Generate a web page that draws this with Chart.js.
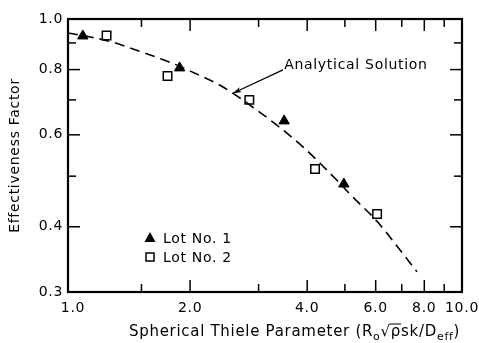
<!DOCTYPE html>
<html><head><meta charset="utf-8">
<script src="https://cdn.jsdelivr.net/npm/chart.js@4.4.1/dist/chart.umd.min.js"></script>
<style>html,body{margin:0;padding:0;background:#fff;}#wrap{width:479px;height:343px;}</style>
</head><body><div id="wrap"><canvas id="c" width="479" height="343"></canvas></div>
<script>
// ---- data ----
const lot1X = [1.06, 1.88, 3.49, 4.97];
const lot1Y = [0.928, 0.806, 0.638, 0.483];
const lot2X = [1.22, 1.75, 2.84, 4.19, 6.05];
const lot2Y = [0.930, 0.778, 0.700, 0.516, 0.423];
const curveX = [0.971, 1.106, 1.245, 1.377, 1.513, 1.644, 1.807, 1.964, 2.43, 2.97, 3.40, 3.90, 4.31, 4.77, 5.15, 6.06, 6.81, 7.66];
const curveY = [0.940, 0.924, 0.906, 0.884, 0.863, 0.844, 0.822, 0.800, 0.741, 0.669, 0.620, 0.569, 0.530, 0.491, 0.462, 0.409, 0.367, 0.328];
const xTickValues = [1, 1.5, 2, 3, 4, 5, 6, 7, 8, 9, 10];
const xTickLabels = ['1.0', '', '2.0', '', '4.0', '', '6.0', '', '8.0', '', '10.0'];
const yTickValues = [0.3, 0.4, 0.5, 0.6, 0.7, 0.8, 0.9, 1.0];
const yTickLabels = ['0.3', '0.4', '', '0.6', '', '0.8', '', '1.0'];
const seriesNames = ['Analytical Solution', 'Lot No. 1', 'Lot No. 2'];
const xTitle = 'Spherical Thiele Parameter';
const yTitle = 'Effectiveness Factor';

const FAMILY = '"DejaVu Sans", sans-serif';
const LS = '0.7px';

function pts(xs, ys) { return xs.map((v, i) => ({x: v, y: ys[i]})); }

const decor = {
  id: 'decor',
  beforeDraw(chart) { chart.ctx.letterSpacing = LS; },
  afterDatasetsDraw(chart) {
    const {ctx, chartArea: a, scales: {x, y}} = chart;
    ctx.save();
    ctx.strokeStyle = '#000';
    ctx.fillStyle = '#000';
    ctx.lineWidth = 1.5;
    const line = (x1, y1, x2, y2) => { ctx.beginPath(); ctx.moveTo(x1, y1); ctx.lineTo(x2, y2); ctx.stroke(); };
    // inward ticks
    xTickValues.forEach((v, i) => {
      if (v <= 1 || v >= 10) return;
      const px = x.getPixelForValue(v);
      const L = xTickLabels[i] ? 12 : 8;
      line(px, a.bottom, px, a.bottom - L);
      line(px, a.top, px, a.top + L);
    });
    yTickValues.forEach((v, i) => {
      if (v <= 0.3 || v >= 1.0) return;
      const py = y.getPixelForValue(v);
      const L = yTickLabels[i] ? 12 : 8;
      line(a.left, py, a.left + L, py);
      line(a.right, py, a.right - L, py);
    });
    // frame
    ctx.lineWidth = 2.2;
    ctx.strokeRect(a.left, a.top, a.right - a.left, a.bottom - a.top);

    // annotation
    ctx.font = '14px ' + FAMILY;
    ctx.letterSpacing = LS;
    ctx.textBaseline = 'middle';
    ctx.textAlign = 'left';
    ctx.fillText(seriesNames[0], x.getPixelForValue(3.49), y.getPixelForValue(0.816));
    const tx = x.getPixelForValue(3.465), ty = y.getPixelForValue(0.799);
    const hx = x.getPixelForValue(2.577), hy = y.getPixelForValue(0.721);
    ctx.lineWidth = 1.2;
    line(tx, ty, hx, hy);
    const ang = Math.atan2(hy - ty, hx - tx);
    const al = 9, aw = 0.3;
    ctx.beginPath();
    ctx.moveTo(hx, hy);
    ctx.lineTo(hx - al * Math.cos(ang - aw), hy - al * Math.sin(ang - aw));
    ctx.lineTo(hx - al * 0.7 * Math.cos(ang), hy - al * 0.7 * Math.sin(ang));
    ctx.lineTo(hx - al * Math.cos(ang + aw), hy - al * Math.sin(ang + aw));
    ctx.closePath();
    ctx.fill();

    // legend
    const lx = 150;
    const ly1 = 238, ly2 = 257;
    ctx.beginPath();
    ctx.moveTo(lx, ly1 - 6); ctx.lineTo(lx + 5.5, ly1 + 4); ctx.lineTo(lx - 5.5, ly1 + 4); ctx.closePath();
    ctx.fill();
    ctx.lineWidth = 1.5;
    ctx.fillStyle = '#fff';
    ctx.fillRect(lx - 4, ly2 - 4, 8, 8);
    ctx.strokeRect(lx - 4, ly2 - 4, 8, 8);
    ctx.fillStyle = '#000';
    ctx.fillText(seriesNames[1], 163, ly1 + 1);
    ctx.fillText(seriesNames[2], 163, ly2 + 1);

    // x-axis title with subscripts
    ctx.textBaseline = 'alphabetic';
    let cx = 129; const base = 336;
    const put = (t, size, dy) => { ctx.font = size + 'px ' + FAMILY; ctx.fillText(t, cx, base + dy); cx += ctx.measureText(t).width; };
    put(xTitle + ' (R', 15, 0);
    put('o', 11, 4);
    put('\u221A', 15, 0);
    const rx = cx;
    put('\u03C1', 15, 0);
    ctx.lineWidth = 1;
    line(rx - 1, base - 12, cx, base - 12);
    put('sk/D', 15, 0);
    put('eff', 11, 4);
    put(')', 15, 0);
    ctx.restore();
  }
};

new Chart(document.getElementById('c'), {
  type: 'scatter',
  data: {
    datasets: [
      {label: seriesNames[0], data: pts(curveX, curveY), showLine: true, cubicInterpolationMode: 'monotone', borderColor: '#000', borderWidth: 1.6, borderDash: [10, 6], pointRadius: 0, fill: false},
      {label: seriesNames[1], data: pts(lot1X, lot1Y), pointStyle: 'triangle', pointRadius: 6, backgroundColor: '#000', borderColor: '#000', borderWidth: 1},
      {label: seriesNames[2], data: pts(lot2X, lot2Y), pointStyle: 'rect', pointRadius: 6, backgroundColor: '#fff', borderColor: '#000', borderWidth: 1.5}
    ]
  },
  options: {
    responsive: false,
    animation: false,
    devicePixelRatio: 1,
    layout: {padding: {top: 19, right: 17, left: 0, bottom: 0}},
    plugins: {legend: {display: false}, tooltip: {enabled: false}},
    scales: {
      x: {
        type: 'logarithmic', min: 0.971, max: 10,
        afterBuildTicks(s) { s.ticks = xTickValues.map(v => ({value: v})); },
        afterFit(s) { s.height = 51; s.paddingLeft = 0; s.paddingRight = 0; },
        ticks: {autoSkip: false, maxRotation: 0, minRotation: 0, padding: 8, color: '#000', font: {family: FAMILY, size: 14},
          callback: (v, i) => xTickLabels[i]},
        grid: {display: false, drawTicks: false},
        border: {display: false}
      },
      y: {
        type: 'logarithmic', min: 0.3, max: 1.0,
        afterBuildTicks(s) { s.ticks = yTickValues.map(v => ({value: v})); },
        afterFit(s) { s.width = 68; s.paddingTop = 0; s.paddingBottom = 0; },
        ticks: {autoSkip: false, padding: 5, color: '#000', font: {family: FAMILY, size: 14},
          callback: (v, i) => yTickLabels[i]},
        grid: {display: false, drawTicks: false},
        border: {display: false},
        title: {display: true, text: yTitle, color: '#000', font: {family: FAMILY, size: 14}, padding: {top: 7, bottom: 0}}
      }
    }
  },
  plugins: [decor]
});
</script>
</body></html>
